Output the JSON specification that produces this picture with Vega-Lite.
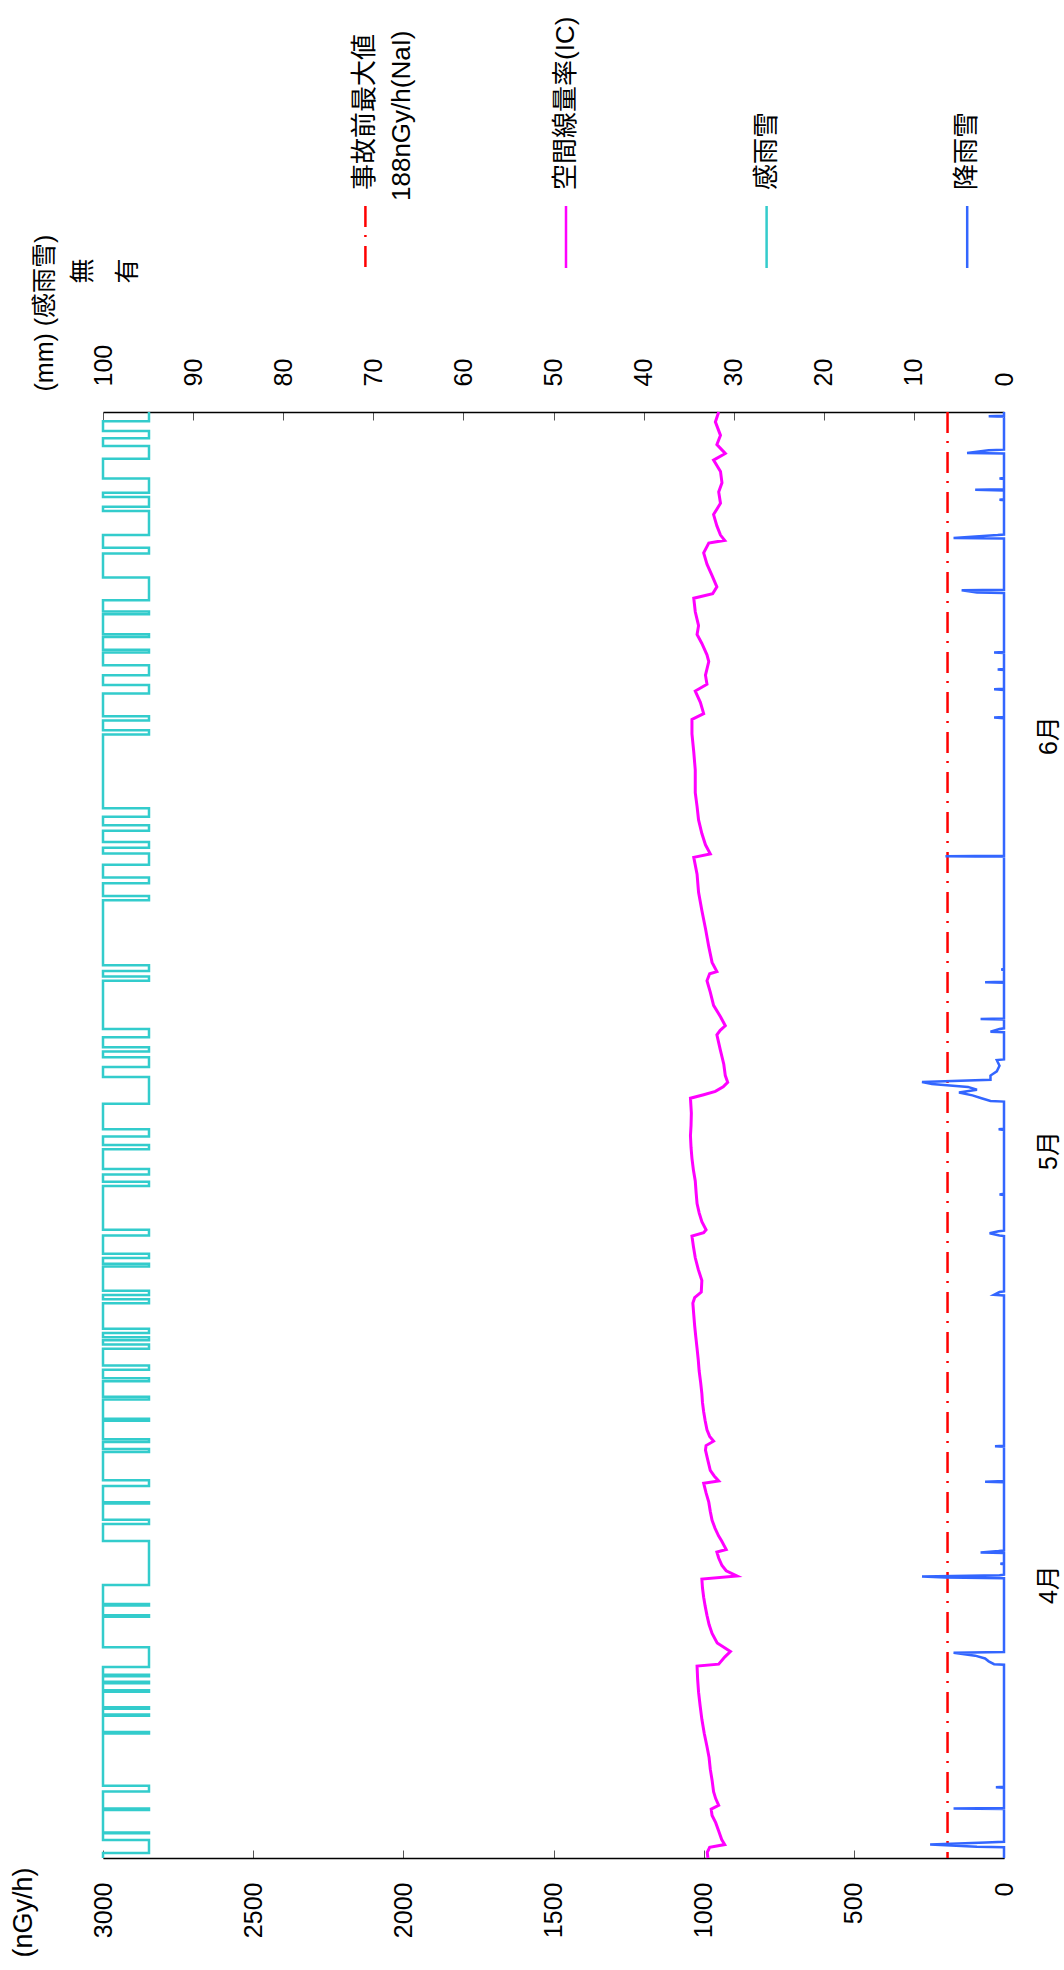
{
  "$schema": "https://vega.github.io/schema/vega-lite/v6.json",
  "background": "white",
  "padding": {"left": 9, "top": 16, "right": 0, "bottom": 0},
  "bounds": "flush",
  "spacing": 144,
  "config": {
    "view": {"stroke": null},
    "font": "Liberation Sans, Noto Sans CJK JP",
    "axis": {
      "labelFont": "Liberation Sans, Noto Sans CJK JP",
      "labelFontSize": 25,
      "labelColor": "#000000",
      "titleFont": "Liberation Sans, Noto Sans CJK JP",
      "titleFontSize": 25,
      "titleFontWeight": "normal",
      "titleColor": "#000000",
      "domainColor": "#000000",
      "domainWidth": 1.5,
      "tickColor": "#555555",
      "tickWidth": 1,
      "tickSize": -8,
      "grid": false,
      "labelFlush": false,
      "labelOverlap": false,
      "labelLimit": 0
    }
  },
  "datasets": {
    "dose": [
      {"day":0,"dose":986},{"day":0.4,"dose":988},{"day":0.75,"dose":980},{"day":0.95,"dose":930},{"day":1.3,"dose":940},{"day":1.9,"dose":950},{"day":2.5,"dose":960},{"day":3.0,"dose":972},{"day":3.45,"dose":975},{"day":3.72,"dose":950},{"day":4.2,"dose":960},{"day":4.68,"dose":967},{"day":5.5,"dose":972},{"day":6.28,"dose":978},{"day":7.1,"dose":982},{"day":7.88,"dose":989},{"day":8.8,"dose":998},{"day":9.8,"dose":1006},{"day":10.8,"dose":1012},{"day":11.72,"dose":1017},{"day":12.6,"dose":1020},{"day":13.57,"dose":1022},{"day":13.7,"dose":950},{"day":14.2,"dose":930},{"day":14.59,"dose":911},{"day":15.2,"dose":955},{"day":15.87,"dose":972},{"day":16.5,"dose":982},{"day":17.15,"dose":989},{"day":17.8,"dose":995},{"day":18.43,"dose":1000},{"day":19.1,"dose":1004},{"day":19.71,"dose":1006},{"day":19.93,"dose":889},{"day":20.3,"dose":925},{"day":20.67,"dose":939},{"day":21.2,"dose":950},{"day":21.63,"dose":956},{"day":21.8,"dose":925},{"day":22.4,"dose":940},{"day":22.75,"dose":950},{"day":23.3,"dose":962},{"day":23.87,"dose":972},{"day":24.5,"dose":978},{"day":25.15,"dose":983},{"day":25.8,"dose":992},{"day":26.49,"dose":1000},{"day":26.65,"dose":950},{"day":27.0,"dose":965},{"day":27.39,"dose":978},{"day":28.1,"dose":986},{"day":28.83,"dose":994},{"day":29.15,"dose":992},{"day":29.46,"dose":967},{"day":29.8,"dose":980},{"day":30.26,"dose":989},{"day":30.9,"dose":995},{"day":31.54,"dose":1000},{"day":32.2,"dose":1004},{"day":32.82,"dose":1006},{"day":33.6,"dose":1010},{"day":34.42,"dose":1015},{"day":35.2,"dose":1018},{"day":36.02,"dose":1022},{"day":36.8,"dose":1026},{"day":37.62,"dose":1030},{"day":38.4,"dose":1033},{"day":39.22,"dose":1036},{"day":39.6,"dose":1030},{"day":40.0,"dose":1008},{"day":40.82,"dose":1006},{"day":41.6,"dose":1018},{"day":42.42,"dose":1028},{"day":43.2,"dose":1034},{"day":43.95,"dose":1039},{"day":44.2,"dose":1000},{"day":44.4,"dose":992},{"day":44.97,"dose":1006},{"day":45.6,"dose":1015},{"day":46.25,"dose":1022},{"day":47.0,"dose":1025},{"day":47.85,"dose":1028},{"day":48.6,"dose":1034},{"day":49.45,"dose":1039},{"day":50.2,"dose":1042},{"day":51.05,"dose":1044},{"day":51.8,"dose":1042},{"day":52.65,"dose":1041},{"day":53.7,"dose":1044},{"day":53.95,"dose":1000},{"day":54.18,"dose":961},{"day":54.5,"dose":935},{"day":54.82,"dose":920},{"day":55.3,"dose":928},{"day":56.1,"dose":933},{"day":57.06,"dose":944},{"day":58.18,"dose":956},{"day":58.5,"dose":945},{"day":58.82,"dose":928},{"day":59.46,"dose":944},{"day":60.26,"dose":967},{"day":61.2,"dose":978},{"day":62.0,"dose":989},{"day":62.5,"dose":980},{"day":62.65,"dose":956},{"day":63.3,"dose":972},{"day":64.41,"dose":983},{"day":65.69,"dose":994},{"day":66.97,"dose":1006},{"day":68.25,"dose":1017},{"day":69.53,"dose":1022},{"day":70.72,"dose":1033},{"day":70.97,"dose":978},{"day":71.61,"dose":994},{"day":72.41,"dose":1006},{"day":73.37,"dose":1017},{"day":74.33,"dose":1022},{"day":75.3,"dose":1028},{"day":76.9,"dose":1028},{"day":78.17,"dose":1033},{"day":79.45,"dose":1039},{"day":80.47,"dose":1039},{"day":80.88,"dose":1000},{"day":81.68,"dose":1011},{"day":82.48,"dose":1028},{"day":82.96,"dose":989},{"day":83.6,"dose":994},{"day":84.56,"dose":983},{"day":85.04,"dose":989},{"day":85.84,"dose":1006},{"day":86.48,"dose":1022},{"day":87.1,"dose":1017},{"day":88.08,"dose":1028},{"day":89.04,"dose":1033},{"day":89.36,"dose":970},{"day":89.84,"dose":956},{"day":90.64,"dose":972},{"day":91.44,"dose":989},{"day":92.24,"dose":1000},{"day":92.94,"dose":983},{"day":93.13,"dose":930},{"day":93.5,"dose":944},{"day":94.15,"dose":956},{"day":94.95,"dose":967},{"day":95.75,"dose":944},{"day":96.55,"dose":950},{"day":97.2,"dose":939},{"day":98.0,"dose":944},{"day":98.8,"dose":967},{"day":99.27,"dose":928},{"day":99.9,"dose":956},{"day":100.55,"dose":944},{"day":101.5,"dose":961},{"day":102.2,"dose":950}
    ],
    "rain": [
      {"day":0,"rain":0},
      {"day":0.76,"rain":0},{"day":0.8,"rain":3.0},{"day":0.95,"rain":8.2},{"day":1.1,"rain":2.0},{"day":1.15,"rain":0},
      {"day":3.46,"rain":0},{"day":3.5,"rain":5.6},{"day":3.54,"rain":0},
      {"day":4.96,"rain":0},{"day":5.0,"rain":0.9},{"day":5.04,"rain":0},
      {"day":13.66,"rain":0},{"day":13.7,"rain":1.1},{"day":13.9,"rain":1.7},{"day":14.1,"rain":2.1},{"day":14.3,"rain":3.2},{"day":14.5,"rain":5.6},{"day":14.56,"rain":0},
      {"day":19.78,"rain":0},{"day":19.82,"rain":6.5},{"day":19.9,"rain":9.1},{"day":19.98,"rain":0.5},{"day":20.02,"rain":0},
      {"day":20.76,"rain":0},{"day":20.8,"rain":0.4},{"day":20.84,"rain":0},
      {"day":21.56,"rain":0},{"day":21.6,"rain":2.6},{"day":21.7,"rain":0.6},{"day":21.74,"rain":0},
      {"day":26.56,"rain":0},{"day":26.6,"rain":2.1},{"day":26.64,"rain":0},
      {"day":29.06,"rain":0},{"day":29.1,"rain":1.0},{"day":29.14,"rain":0},
      {"day":39.76,"rain":0},{"day":39.8,"rain":1.1},{"day":40.0,"rain":0.5},{"day":40.04,"rain":0},
      {"day":43.96,"rain":0},{"day":44.0,"rain":0.5},{"day":44.15,"rain":1.6},{"day":44.3,"rain":0.6},{"day":44.34,"rain":0},
      {"day":46.86,"rain":0},{"day":46.9,"rain":0.5},{"day":46.94,"rain":0},
      {"day":51.46,"rain":0},{"day":51.5,"rain":0.6},{"day":51.54,"rain":0},
      {"day":53.46,"rain":0},{"day":53.5,"rain":1.5},{"day":53.7,"rain":2.5},{"day":53.9,"rain":3.5},{"day":54.1,"rain":5.0},{"day":54.3,"rain":3.0},{"day":54.5,"rain":4.0},{"day":54.7,"rain":8.0},{"day":54.85,"rain":9.1},{"day":55.0,"rain":1.5},{"day":55.3,"rain":1.5},{"day":55.6,"rain":0.8},{"day":56.0,"rain":0.5},{"day":56.4,"rain":0.8},{"day":56.44,"rain":0},
      {"day":58.36,"rain":0},{"day":58.4,"rain":1.5},{"day":58.6,"rain":0.5},{"day":58.64,"rain":0},
      {"day":59.26,"rain":0},{"day":59.3,"rain":2.6},{"day":59.34,"rain":0},
      {"day":61.86,"rain":0},{"day":61.9,"rain":2.1},{"day":61.94,"rain":0},
      {"day":62.76,"rain":0},{"day":62.8,"rain":0.3},{"day":62.84,"rain":0},
      {"day":70.76,"rain":0},{"day":70.8,"rain":6.5},{"day":70.84,"rain":0},
      {"day":80.56,"rain":0},{"day":80.6,"rain":1.1},{"day":80.64,"rain":0},
      {"day":82.56,"rain":0},{"day":82.6,"rain":1.1},{"day":82.64,"rain":0},
      {"day":83.96,"rain":0},{"day":84.0,"rain":0.7},{"day":84.04,"rain":0},
      {"day":85.16,"rain":0},{"day":85.2,"rain":1.1},{"day":85.24,"rain":0},
      {"day":89.41,"rain":0},{"day":89.45,"rain":3.0},{"day":89.6,"rain":4.7},{"day":89.64,"rain":0},
      {"day":93.26,"rain":0},{"day":93.3,"rain":5.6},{"day":93.5,"rain":0.7},{"day":93.54,"rain":0},
      {"day":95.96,"rain":0},{"day":96.0,"rain":0.5},{"day":96.04,"rain":0},
      {"day":96.66,"rain":0},{"day":96.7,"rain":3.2},{"day":96.74,"rain":0},
      {"day":97.46,"rain":0},{"day":97.5,"rain":0.5},{"day":97.54,"rain":0},
      {"day":99.26,"rain":0},{"day":99.3,"rain":4.1},{"day":99.5,"rain":1.7},{"day":99.54,"rain":0},
      {"day":101.86,"rain":0},{"day":101.9,"rain":1.7},{"day":101.94,"rain":0},
      {"day":102.2,"rain":0}
    ],
    "sense": [
      {"day":0,"sense":0},
      {"day":0.35,"sense":0},{"day":0.35,"sense":1},{"day":1.27,"sense":1},{"day":1.27,"sense":0},
      {"day":1.75,"sense":0},{"day":1.75,"sense":1},{"day":1.8,"sense":1},{"day":1.8,"sense":0},
      {"day":3.4,"sense":0},{"day":3.4,"sense":1},{"day":3.5,"sense":1},{"day":3.5,"sense":0},
      {"day":4.7,"sense":0},{"day":4.7,"sense":1},{"day":5.1,"sense":1},{"day":5.1,"sense":0},
      {"day":8.8,"sense":0},{"day":8.8,"sense":1},{"day":8.9,"sense":1},{"day":8.9,"sense":0},
      {"day":10.05,"sense":0},{"day":10.05,"sense":1},{"day":10.15,"sense":1},{"day":10.15,"sense":0},
      {"day":10.55,"sense":0},{"day":10.55,"sense":1},{"day":10.65,"sense":1},{"day":10.65,"sense":0},
      {"day":11.75,"sense":0},{"day":11.75,"sense":1},{"day":11.85,"sense":1},{"day":11.85,"sense":0},
      {"day":12.35,"sense":0},{"day":12.35,"sense":1},{"day":12.45,"sense":1},{"day":12.45,"sense":0},
      {"day":12.85,"sense":0},{"day":12.85,"sense":1},{"day":12.95,"sense":1},{"day":12.95,"sense":0},
      {"day":13.5,"sense":0},{"day":13.5,"sense":1},{"day":14.9,"sense":1},{"day":14.9,"sense":0},
      {"day":17.05,"sense":0},{"day":17.05,"sense":1},{"day":17.15,"sense":1},{"day":17.15,"sense":0},
      {"day":17.85,"sense":0},{"day":17.85,"sense":1},{"day":17.95,"sense":1},{"day":17.95,"sense":0},
      {"day":19.3,"sense":0},{"day":19.3,"sense":1},{"day":22.4,"sense":1},{"day":22.4,"sense":0},
      {"day":23.6,"sense":0},{"day":23.6,"sense":1},{"day":23.9,"sense":1},{"day":23.9,"sense":0},
      {"day":25.05,"sense":0},{"day":25.05,"sense":1},{"day":25.15,"sense":1},{"day":25.15,"sense":0},
      {"day":26.3,"sense":0},{"day":26.3,"sense":1},{"day":26.7,"sense":1},{"day":26.7,"sense":0},
      {"day":28.7,"sense":0},{"day":28.7,"sense":1},{"day":28.9,"sense":1},{"day":28.9,"sense":0},
      {"day":29.4,"sense":0},{"day":29.4,"sense":1},{"day":29.6,"sense":1},{"day":29.6,"sense":0},
      {"day":30.9,"sense":0},{"day":30.9,"sense":1},{"day":31.05,"sense":1},{"day":31.05,"sense":0},
      {"day":32.4,"sense":0},{"day":32.4,"sense":1},{"day":32.6,"sense":1},{"day":32.6,"sense":0},
      {"day":33.7,"sense":0},{"day":33.7,"sense":1},{"day":33.9,"sense":1},{"day":33.9,"sense":0},
      {"day":34.5,"sense":0},{"day":34.5,"sense":1},{"day":34.8,"sense":1},{"day":34.8,"sense":0},
      {"day":36.0,"sense":0},{"day":36.0,"sense":1},{"day":36.3,"sense":1},{"day":36.3,"sense":0},
      {"day":36.6,"sense":0},{"day":36.6,"sense":1},{"day":36.8,"sense":1},{"day":36.8,"sense":0},
      {"day":37.1,"sense":0},{"day":37.1,"sense":1},{"day":37.4,"sense":1},{"day":37.4,"sense":0},
      {"day":39.2,"sense":0},{"day":39.2,"sense":1},{"day":39.5,"sense":1},{"day":39.5,"sense":0},
      {"day":39.8,"sense":0},{"day":39.8,"sense":1},{"day":40.1,"sense":1},{"day":40.1,"sense":0},
      {"day":41.8,"sense":0},{"day":41.8,"sense":1},{"day":42.0,"sense":1},{"day":42.0,"sense":0},
      {"day":42.4,"sense":0},{"day":42.4,"sense":1},{"day":42.7,"sense":1},{"day":42.7,"sense":0},
      {"day":44.0,"sense":0},{"day":44.0,"sense":1},{"day":44.4,"sense":1},{"day":44.4,"sense":0},
      {"day":47.5,"sense":0},{"day":47.5,"sense":1},{"day":47.8,"sense":1},{"day":47.8,"sense":0},
      {"day":48.3,"sense":0},{"day":48.3,"sense":1},{"day":48.7,"sense":1},{"day":48.7,"sense":0},
      {"day":50.1,"sense":0},{"day":50.1,"sense":1},{"day":50.4,"sense":1},{"day":50.4,"sense":0},
      {"day":51.0,"sense":0},{"day":51.0,"sense":1},{"day":51.5,"sense":1},{"day":51.5,"sense":0},
      {"day":53.3,"sense":0},{"day":53.3,"sense":1},{"day":55.2,"sense":1},{"day":55.2,"sense":0},
      {"day":55.9,"sense":0},{"day":55.9,"sense":1},{"day":56.6,"sense":1},{"day":56.6,"sense":0},
      {"day":57.0,"sense":0},{"day":57.0,"sense":1},{"day":57.3,"sense":1},{"day":57.3,"sense":0},
      {"day":58.0,"sense":0},{"day":58.0,"sense":1},{"day":58.6,"sense":1},{"day":58.6,"sense":0},
      {"day":62.0,"sense":0},{"day":62.0,"sense":1},{"day":62.3,"sense":1},{"day":62.3,"sense":0},
      {"day":62.7,"sense":0},{"day":62.7,"sense":1},{"day":63.1,"sense":1},{"day":63.1,"sense":0},
      {"day":67.7,"sense":0},{"day":67.7,"sense":1},{"day":68.0,"sense":1},{"day":68.0,"sense":0},
      {"day":68.9,"sense":0},{"day":68.9,"sense":1},{"day":69.3,"sense":1},{"day":69.3,"sense":0},
      {"day":70.2,"sense":0},{"day":70.2,"sense":1},{"day":71.0,"sense":1},{"day":71.0,"sense":0},
      {"day":71.4,"sense":0},{"day":71.4,"sense":1},{"day":71.8,"sense":1},{"day":71.8,"sense":0},
      {"day":72.6,"sense":0},{"day":72.6,"sense":1},{"day":73.0,"sense":1},{"day":73.0,"sense":0},
      {"day":73.6,"sense":0},{"day":73.6,"sense":1},{"day":74.2,"sense":1},{"day":74.2,"sense":0},
      {"day":79.4,"sense":0},{"day":79.4,"sense":1},{"day":79.7,"sense":1},{"day":79.7,"sense":0},
      {"day":80.4,"sense":0},{"day":80.4,"sense":1},{"day":80.7,"sense":1},{"day":80.7,"sense":0},
      {"day":82.3,"sense":0},{"day":82.3,"sense":1},{"day":82.9,"sense":1},{"day":82.9,"sense":0},
      {"day":83.6,"sense":0},{"day":83.6,"sense":1},{"day":84.3,"sense":1},{"day":84.3,"sense":0},
      {"day":85.2,"sense":0},{"day":85.2,"sense":1},{"day":85.4,"sense":1},{"day":85.4,"sense":0},
      {"day":86.3,"sense":0},{"day":86.3,"sense":1},{"day":86.5,"sense":1},{"day":86.5,"sense":0},
      {"day":87.9,"sense":0},{"day":87.9,"sense":1},{"day":88.1,"sense":1},{"day":88.1,"sense":0},
      {"day":88.9,"sense":0},{"day":88.9,"sense":1},{"day":90.5,"sense":1},{"day":90.5,"sense":0},
      {"day":92.2,"sense":0},{"day":92.2,"sense":1},{"day":92.6,"sense":1},{"day":92.6,"sense":0},
      {"day":93.5,"sense":0},{"day":93.5,"sense":1},{"day":95.2,"sense":1},{"day":95.2,"sense":0},
      {"day":95.5,"sense":0},{"day":95.5,"sense":1},{"day":96.2,"sense":1},{"day":96.2,"sense":0},
      {"day":96.5,"sense":0},{"day":96.5,"sense":1},{"day":97.5,"sense":1},{"day":97.5,"sense":0},
      {"day":98.9,"sense":0},{"day":98.9,"sense":1},{"day":99.8,"sense":1},{"day":99.8,"sense":0},
      {"day":100.35,"sense":0},{"day":100.35,"sense":1},{"day":100.85,"sense":1},{"day":100.85,"sense":0},
      {"day":101.55,"sense":0},{"day":101.55,"sense":1},{"day":102.2,"sense":1}
    ]
  },
  "vconcat": [
    {
      "width": 901,
      "height": 62,
      "data": {"values": [
        {"series": "事故前最大値", "note": "188nGy/h(NaI)"},
        {"series": "空間線量率(IC)"},
        {"series": "感雨雪"},
        {"series": "降雨雪"}
      ]},
      "encoding": {
        "x": {"field": "series", "type": "nominal",
          "scale": {"type": "point", "domain": ["事故前最大値", "空間線量率(IC)", "感雨雪", "降雨雪"], "padding": 0.7458, "align": 0.877, "round": false},
          "axis": null}
      },
      "layer": [
        {
          "mark": {"type": "rule", "strokeWidth": 2.5},
          "encoding": {
            "color": {"field": "series", "type": "nominal",
              "scale": {"domain": ["事故前最大値", "空間線量率(IC)", "感雨雪", "降雨雪"], "range": ["#ff0000", "#ff00ff", "#33cccc", "#3366ff"]},
              "legend": null},
            "strokeDash": {"field": "series", "type": "nominal",
              "scale": {"domain": ["事故前最大値", "空間線量率(IC)", "感雨雪", "降雨雪"], "range": [[21, 8, 2, 9], [1, 0], [1, 0], [1, 0]]},
              "legend": null}
          }
        },
        {
          "mark": {"type": "text", "angle": 270, "align": "left", "baseline": "middle", "dx": 47, "fontSize": 26, "font": "Liberation Sans, Noto Sans CJK JP", "color": "#000000"},
          "encoding": {"text": {"field": "series"}}
        },
        {
          "transform": [{"filter": "isValid(datum.note)"}],
          "mark": {"type": "text", "angle": 270, "align": "left", "baseline": "middle", "dx": 36, "dy": 37, "fontSize": 26, "font": "Liberation Sans, Noto Sans CJK JP", "color": "#000000"},
          "encoding": {"text": {"field": "note"}}
        }
      ]
    },
    {
      "width": 901,
      "height": 1446,
      "resolve": {"scale": {"x": "independent"}, "axis": {"x": "independent"}},
      "layer": [
        {
          "data": {"values": [{"dose": 188}]},
          "mark": {"type": "rule", "strokeWidth": 2.5, "strokeDash": [21, 8, 2, 9]},
          "encoding": {
            "x": {"field": "dose", "type": "quantitative", "scale": {"domain": [0, 3000], "reverse": true, "nice": false, "zero": false}, "axis": null},
            "color": {"datum": "事故前最大値", "scale": {"domain": ["事故前最大値", "空間線量率(IC)", "感雨雪", "降雨雪"], "range": ["#ff0000", "#ff00ff", "#33cccc", "#3366ff"]}, "legend": null}
          }
        },
        {
          "data": {"name": "rain"},
          "mark": {"type": "line", "strokeWidth": 2.5},
          "encoding": {
            "x": {"field": "rain", "type": "quantitative",
              "scale": {"domain": [0, 100], "reverse": true, "nice": false, "zero": false},
              "axis": {"orient": "top", "values": [0, 10, 20, 30, 40, 50, 60, 70, 80, 90, 100], "format": "d",
                "labelAngle": 270, "labelAlign": "left", "labelBaseline": "middle", "labelPadding": 34,
                "title": "(mm) (感雨雪)", "titleAngle": 270, "titleAlign": "left", "titleBaseline": "middle", "titleX": -59, "titleY": -21}},
            "y": {"field": "day", "type": "quantitative", "title": null, "scale": {"domain": [0, 102.2], "nice": false, "zero": false}},
            "color": {"datum": "降雨雪", "scale": {"domain": ["事故前最大値", "空間線量率(IC)", "感雨雪", "降雨雪"], "range": ["#ff0000", "#ff00ff", "#33cccc", "#3366ff"]}, "legend": null},
            "order": {"value": null}
          }
        },
        {
          "data": {"name": "dose"},
          "mark": {"type": "line", "strokeWidth": 3},
          "encoding": {
            "x": {"field": "dose", "type": "quantitative",
              "scale": {"domain": [0, 3000], "reverse": true, "nice": false, "zero": false},
              "axis": {"orient": "bottom", "values": [0, 500, 1000, 1500, 2000, 2500, 3000], "format": "d",
                "labelAngle": 270, "labelAlign": "right", "labelBaseline": "middle", "labelPadding": 32,
                "title": "(nGy/h)", "titleFontSize": 27, "titleAngle": 270, "titleAlign": "right", "titleBaseline": "middle", "titleX": -79.5, "titleY": 9}},
            "y": {"field": "day", "type": "quantitative", "title": null,
              "scale": {"domain": [0, 102.2], "nice": false, "zero": false},
              "axis": {"orient": "right", "values": [19.36, 50.04, 79.36],
                "labelExpr": "datum.value < 30 ? '4月' : (datum.value < 60 ? '5月' : '6月')",
                "labelAngle": 270, "labelAlign": "center", "labelBaseline": "middle", "labelPadding": 44,
                "ticks": false, "tickSize": 0, "domain": false, "title": null}},
            "color": {"datum": "空間線量率(IC)", "scale": {"domain": ["事故前最大値", "空間線量率(IC)", "感雨雪", "降雨雪"], "range": ["#ff0000", "#ff00ff", "#33cccc", "#3366ff"]}, "legend": null},
            "order": {"value": null}
          }
        },
        {
          "data": {"name": "sense"},
          "mark": {"type": "line", "strokeWidth": 2.5},
          "encoding": {
            "x": {"field": "sense", "type": "quantitative",
              "scale": {"domain": [0, 19.59], "nice": false, "zero": false},
              "axis": {"orient": "top", "values": [0, 1],
                "labelExpr": "datum.value == 0 ? '無' : '有'",
                "labelAngle": 270, "labelAlign": "left", "labelBaseline": "middle", "labelOffset": -21, "labelPadding": 129,
                "ticks": false, "tickSize": 0, "domain": false, "title": null}},
            "y": {"field": "day", "type": "quantitative", "title": null, "scale": {"domain": [0, 102.2], "nice": false, "zero": false}},
            "color": {"datum": "感雨雪", "scale": {"domain": ["事故前最大値", "空間線量率(IC)", "感雨雪", "降雨雪"], "range": ["#ff0000", "#ff00ff", "#33cccc", "#3366ff"]}, "legend": null},
            "order": {"value": null}
          }
        }
      ]
    }
  ]
}
